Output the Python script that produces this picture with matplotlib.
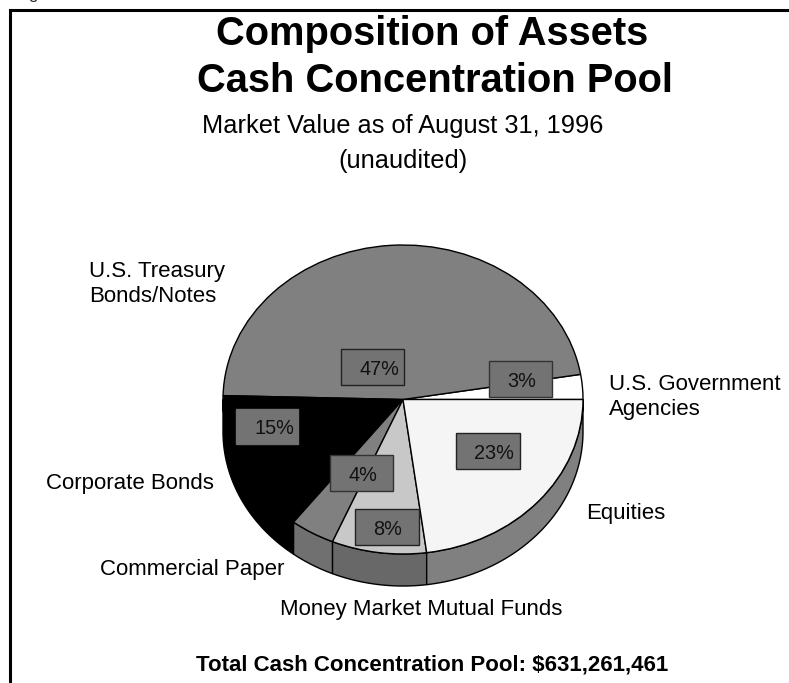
import matplotlib
matplotlib.use("Agg")
import numpy as np
import matplotlib.pyplot as plt
from matplotlib.patches import Polygon, Rectangle

plt.rcParams['font.family'] = ['Liberation Sans', 'DejaVu Sans']

slices = ['U.S. Government\nAgencies', 'U.S. Treasury\nBonds/Notes', 'Corporate Bonds',
          'Commercial Paper', 'Money Market Mutual Funds', 'Equities']
# shares as drawn on the pie, a bit off the printed labels
drawn = [2.6, 47.0, 15.0, 4.0, 8.5, 22.9]
printed = ['3%', '47%', '15%', '4%', '8%', '23%']
top_colors = ['#ffffff', '#808080', '#000000', '#808080', '#c8c8c8', '#f5f5f5']
side_colors = ['#ffffff', '#808080', '#000000', '#707070', '#686868', '#808080']

W, H = 789, 683
cx, cy, rx, ry = 403, 399.5, 180, 154.5
depth = 32 / ry

fig = plt.figure(figsize=(W / 100, H / 100), dpi=100)

# page overlay in pixel coordinates for frame and text
page = fig.add_axes([0, 0, 1, 1], zorder=3)
page.set_xlim(0, W)
page.set_ylim(H, 0)
page.axis('off')

ax = fig.add_axes([(cx - rx) / W, (H - cy - ry) / H, 2 * rx / W, 2 * ry / H], zorder=2)
wedges, _ = ax.pie(drawn, colors=top_colors, startangle=0, counterclock=True, radius=1,
                   wedgeprops={'edgecolor': 'black', 'linewidth': 1.0, 'zorder': 3})
ax.set_aspect('auto')
ax.set_xlim(-1, 1)
ax.set_ylim(-1, 1)

# side wall, only the part of each wedge on the front
for w, c in zip(wedges, side_colors):
    a = max(w.theta1, 180)
    b = min(w.theta2, 360)
    if b <= a:
        continue
    t = np.radians(np.linspace(a, b, 80))
    x = np.cos(t)
    y = np.sin(t)
    pts = np.vstack([np.column_stack([x, y]),
                     np.column_stack([x[::-1], y[::-1] - depth])])
    p = Polygon(pts, closed=True, facecolor=c, edgecolor='black', linewidth=1.0, zorder=2, clip_on=False)
    ax.add_patch(p)

# frame: left and top rules only, the right side is open
page.plot([10.5, 10.5, W], [H, 9.5, 9.5], color='black', lw=2.2, solid_joinstyle='miter')
page.text(33, -1, 'g', fontsize=12, ha='center', va='baseline', color='#222222')

page.text(432, 45, 'Composition of Assets', fontsize=28.7, fontweight='bold', ha='center', va='baseline')
page.text(435, 92, 'Cash Concentration Pool', fontsize=28.7, fontweight='bold', ha='center', va='baseline')
page.text(403, 133, 'Market Value as of August 31, 1996', fontsize=18.3, ha='center', va='baseline')
page.text(403, 168, '(unaudited)', fontsize=18.3, ha='center', va='baseline')
page.text(432, 665, 'Total Cash Concentration Pool: $631,261,461', fontsize=16, fontweight='bold',
          ha='center', va='center')

label_pos = [(609, 397), (89, 284), (46, 484), (100, 570), (280, 610), (586, 514)]
for name, (x, y) in zip(slices, label_pos):
    page.text(x, y, name, fontsize=16, ha='left', va='center', linespacing=1.3)

# printed percent boxes
boxes = [(489, 361, 63, 36), (341, 349, 63, 36), (236, 409, 62, 35),
         (330, 455, 63, 36), (355, 509, 64, 36), (456, 433, 64, 36)]
box_edges = ['#333333', '#222222', '#707070', '#333333', '#222222', '#222222']
for txt, (x, y, w, h), e in zip(printed, boxes, box_edges):
    page.add_patch(Rectangle((x, y), w, h, facecolor='#737373', edgecolor=e, linewidth=1.0, zorder=4))
    page.text(x + 18.5, y + h / 2 + 2.5, txt, fontsize=14.3, ha='left', va='center', zorder=5, color='#111111')

fig.savefig('out.png', dpi=100)
